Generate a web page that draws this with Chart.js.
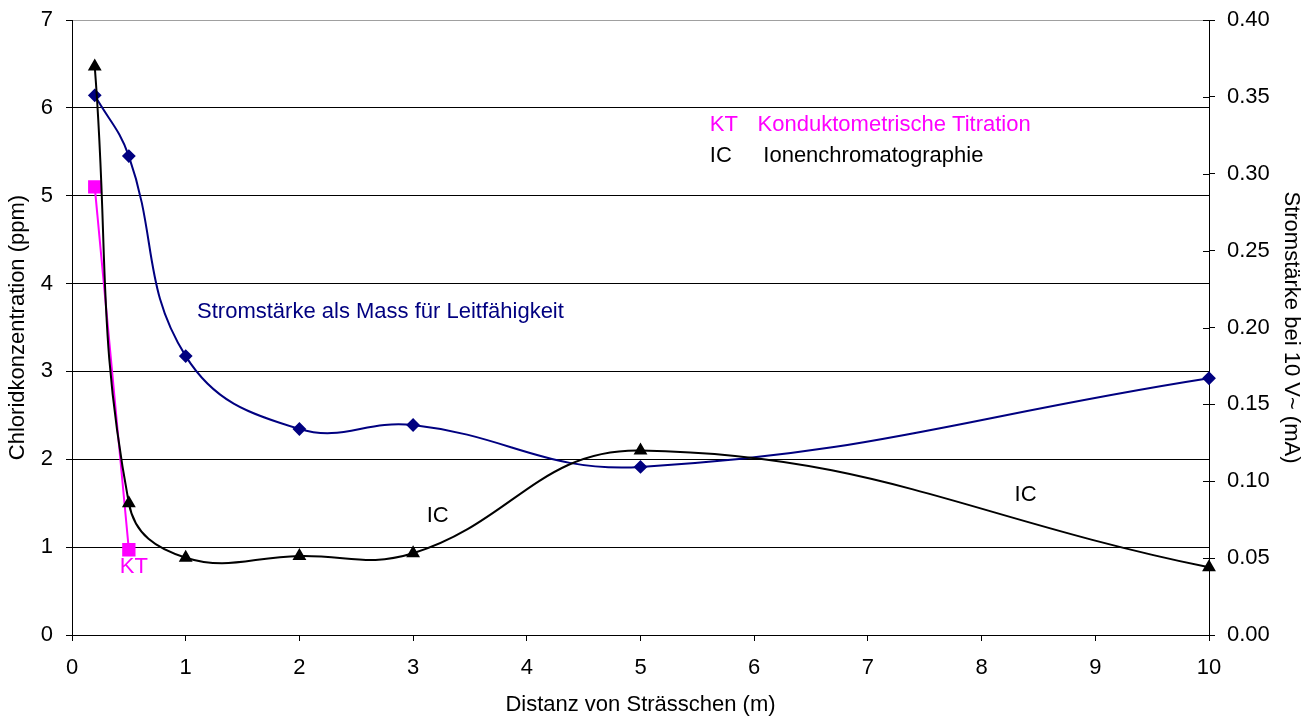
<!DOCTYPE html>
<html>
<head>
<meta charset="utf-8">
<script src="https://cdn.jsdelivr.net/npm/chart.js@4.4.1/dist/chart.umd.min.js"></script>
<style>
  html, body { margin: 0; padding: 0; background: #fff; }
  #wrap { width: 1311px; height: 716px; }
</style>
</head>
<body>
<div id="wrap"><canvas id="chart" width="1311" height="716"></canvas></div>
<script>
// Distanz von Strässchen (m)
const distances = [0.2, 0.5, 1, 2, 3, 5, 10];
// Ionenchromatographie, Chlorid (ppm)
const icPpm = [6.47, 1.5, 0.88, 0.9, 0.93, 2.1, 0.77];
// Konduktometrische Titration, Chlorid (ppm)
const ktDistances = [0.2, 0.5];
const ktPpm = [5.1, 0.97];
// Stromstärke bei 10 V~ (mA)
const currentMa = [0.351, 0.3115, 0.1814, 0.134, 0.1366, 0.1093, 0.167];

// free text labels on the plot: [text, x, y (ppm), colour]
const labels = [
    ['KT', 5.61, 5.81, '#ff00ff'],
    ['Konduktometrische Titration', 6.03, 5.81, '#ff00ff'],
    ['IC', 5.61, 5.45, '#000000'],
    ['Ionenchromatographie', 6.08, 5.45, '#000000'],
    ['Stromstärke als Mass für Leitfähigkeit', 1.1, 3.68, '#000080'],
    ['IC', 3.12, 1.35, '#000000'],
    ['IC', 8.29, 1.59, '#000000'],
    ['KT', 0.42, 0.77, '#ff00ff']
];

const FONT = '"Liberation Sans", Arial, sans-serif';
const pts = (xs, ys) => xs.map((x, i) => ({ x: x, y: ys[i] }));

const textPlugin = {
    id: 'freeText',
    afterDatasetsDraw(chart) {
        const ctx = chart.ctx;
        const x = chart.scales.x;
        const y = chart.scales.y;
        ctx.save();
        ctx.font = '22px ' + FONT;
        ctx.textBaseline = 'middle';
        ctx.textAlign = 'left';
        labels.forEach(l => {
            ctx.fillStyle = l[3];
            ctx.fillText(l[0], x.getPixelForValue(l[1]), y.getPixelForValue(l[2]));
        });
        ctx.restore();
    }
};

// right axis ticks cross the axis line
const crossTicks = {
    id: 'crossTicks',
    afterDraw(chart) {
        const s = chart.scales.y2;
        const ctx = chart.ctx;
        ctx.save();
        ctx.strokeStyle = '#000';
        ctx.lineWidth = 1;
        s.ticks.forEach(t => {
            const py = Math.round(s.getPixelForValue(t.value)) + 0.5;
            ctx.beginPath();
            ctx.moveTo(s.left - 6, py);
            ctx.lineTo(s.left, py);
            ctx.stroke();
        });
        ctx.restore();
    }
};

const noPad = s => { s.paddingTop = 0; s.paddingBottom = 0; s.paddingLeft = 0; s.paddingRight = 0; };

Chart.defaults.font.family = FONT;
Chart.defaults.font.size = 22;
Chart.defaults.color = '#000';

new Chart(document.getElementById('chart'), {
    type: 'line',
    data: {
        datasets: [
            {
                label: 'IC',
                data: pts(distances, icPpm),
                yAxisID: 'y',
                borderColor: '#000',
                backgroundColor: '#000',
                borderWidth: 2,
                pointStyle: 'triangle',
                pointRadius: 6,
                tension: 0.42,
                clip: false
            },
            {
                label: 'KT',
                data: pts(ktDistances, ktPpm),
                yAxisID: 'y',
                borderColor: '#ff00ff',
                backgroundColor: '#ff00ff',
                borderWidth: 2,
                pointStyle: 'rect',
                pointRadius: 8,
                tension: 0,
                clip: false
            },
            {
                label: 'Stromstärke',
                data: pts(distances, currentMa),
                yAxisID: 'y2',
                borderColor: '#000080',
                backgroundColor: '#000080',
                borderWidth: 2,
                pointStyle: 'rectRot',
                pointRadius: 5.5,
                tension: 0.42,
                clip: false
            }
        ]
    },
    options: {
        responsive: false,
        animation: false,
        layout: { padding: { top: 20, left: 0, right: 0, bottom: 0 } },
        plugins: {
            legend: { display: false },
            tooltip: { enabled: false }
        },
        scales: {
            x: {
                type: 'linear',
                min: 0,
                max: 10,
                ticks: { stepSize: 1, padding: 14, maxRotation: 0 },
                grid: { drawOnChartArea: false, tickLength: 6, color: '#000' },
                border: { color: '#000', width: 1 },
                title: { display: true, text: 'Distanz von Strässchen (m)', padding: { top: 0, bottom: -2 } },
                afterFit: s => { noPad(s); s.height = 81; }
            },
            y: {
                position: 'left',
                min: 0,
                max: 7,
                ticks: { stepSize: 1, padding: 13 },
                grid: {
                    color: c => (c.tick && c.tick.value === 7 ? '#a0a0a0' : '#000'),
                    tickColor: '#000',
                    tickLength: 6,
                    lineWidth: 1
                },
                border: { color: '#000', width: 1 },
                title: { display: true, text: 'Chloridkonzentration (ppm)', padding: { top: 5, bottom: 0 } },
                afterFit: s => { noPad(s); s.width = 72; }
            },
            y2: {
                position: 'right',
                min: 0,
                max: 0.4,
                ticks: { stepSize: 0.05, padding: 12, callback: v => v.toFixed(2) },
                grid: { drawOnChartArea: false, tickLength: 6, color: '#000' },
                border: { color: '#000', width: 1 },
                title: { display: true, text: 'Stromstärke bei 10 V~ (mA)', padding: { top: 7, bottom: 0 } },
                afterFit: s => { noPad(s); s.width = 102; }
            }
        }
    },
    plugins: [textPlugin, crossTicks]
});
</script>
</body>
</html>
